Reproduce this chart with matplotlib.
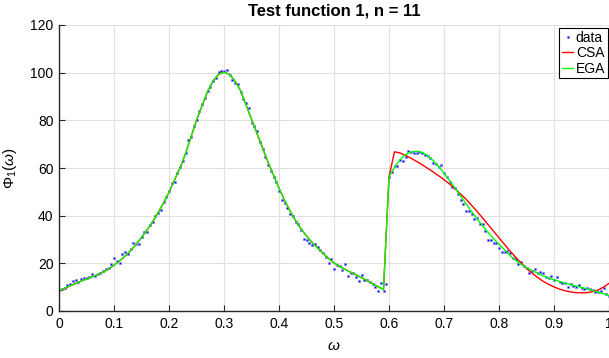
import numpy as np
import matplotlib
matplotlib.use("Agg")
import matplotlib.pyplot as plt

plt.rcParams["font.family"] = ["Liberation Sans", "DejaVu Sans"]
plt.rcParams["mathtext.fontset"] = "custom"
plt.rcParams["mathtext.rm"] = "Liberation Sans"
plt.rcParams["mathtext.it"] = "Liberation Sans:italic"

# measured samples, step 0.005 on [0, 1]
data_y = [
    8.8, 9.1, 9.5, 10.9, 11.3, 12.7, 12.9, 12.0, 13.3, 13.7,
    14.0, 14.4, 15.5, 14.8, 15.5, 15.8, 16.9, 17.5, 18.2, 19.7,
    22.1, 21.0, 20.0, 23.9, 24.9, 23.8, 25.9, 28.4, 28.2, 28.2,
    31.0, 33.0, 33.3, 36.1, 37.5, 39.8, 41.0, 42.4, 45.9, 48.0,
    50.5, 53.6, 54.3, 57.8, 60.3, 63.1, 66.2, 71.8, 73.0, 77.6,
    80.0, 83.9, 86.9, 89.3, 92.5, 94.1, 96.7, 97.6, 100.4, 100.8,
    100.7, 101.1, 99.0, 96.8, 95.6, 95.3, 91.8, 88.8, 87.1, 85.0,
    79.0, 77.6, 75.7, 71.0, 67.8, 64.5, 61.3, 58.7, 56.4, 54.0,
    50.4, 46.6, 45.2, 43.1, 40.7, 39.9, 37.5, 36.5, 34.0, 30.3,
    29.8, 28.7, 27.6, 28.3, 27.0, 25.6, 24.4, 22.7, 20.3, 21.8,
    17.6, 19.2, 18.9, 17.2, 19.9, 14.8, 16.1, 15.9, 14.1, 12.6,
    15.0, 13.0, 13.0, 12.3, 11.3, 9.9, 8.4, 11.9, 8.4, 11.3,
    56.4, 58.5, 60.8, 61.0, 63.4, 63.0, 64.8, 67.1, 66.8, 66.5,
    66.2, 66.7, 66.2, 65.3, 65.2, 64.3, 62.0, 61.6, 60.3, 61.3,
    57.8, 56.4, 54.3, 51.9, 51.5, 49.1, 46.6, 44.9, 42.0, 42.0,
    40.7, 38.5, 39.1, 36.5, 36.5, 33.7, 29.8, 29.8, 28.7, 28.5,
    26.5, 24.6, 24.6, 25.2, 24.2, 22.1, 21.7, 19.6, 20.7, 18.9,
    17.9, 16.1, 16.8, 17.5, 15.8, 16.5, 16.1, 14.4, 13.7, 14.7,
    13.0, 14.1, 12.3, 11.9, 11.9, 10.2, 11.3, 10.5, 9.9, 10.8,
    9.5, 9.3, 9.5, 9.3, 8.8, 7.8, 8.1, 8.5, 9.8, 7.0,
    6.3,
]
data_x = np.linspace(0, 1, len(data_y))

# fitted curves, step 0.01 on [0, 1]
ega_y = [
    8.5, 9.5, 10.6, 11.6, 12.5, 13.4, 14.3, 15.2, 16.3, 17.6,
    19.2, 21.0, 23.0, 25.3, 27.9, 30.8, 34.0, 37.4, 41.2, 45.3,
    49.8, 55.0, 60.0, 66.0, 73.0, 80.0, 86.0, 92.0, 96.5, 99.3,
    100.2, 99.3, 96.5, 92.5, 86.5, 80.5, 74.5, 68.5, 62.5, 57.0,
    51.5, 46.5, 42.0, 38.0, 34.5, 31.5, 28.8, 26.5, 24.2, 22.0,
    20.2, 18.8, 17.5, 16.3, 15.2, 14.0, 12.8, 11.5, 10.2, 9.0,
    56.3, 60.3, 63.5, 65.6, 66.7, 67.0, 66.6, 65.3, 63.2, 60.7,
    57.8, 54.8, 51.6, 48.3, 45.0, 41.8, 38.7, 35.8, 33.0, 30.4,
    28.0, 25.7, 23.3, 21.3, 19.6, 18.2, 17.0, 15.9, 14.8, 13.9,
    13.1, 12.4, 11.7, 11.1, 10.5, 9.9, 9.3, 8.6, 7.9, 7.2,
    6.5,
]
csa_y = [
    8.2, 9.3, 10.5, 11.5, 12.5, 13.4, 14.3, 15.2, 16.3, 17.6,
    19.2, 21.0, 23.0, 25.3, 27.9, 30.8, 34.0, 37.4, 41.2, 45.3,
    49.8, 55.0, 60.0, 66.0, 73.0, 80.0, 86.0, 92.0, 96.5, 99.3,
    100.2, 99.3, 96.5, 92.5, 86.5, 80.5, 74.5, 68.5, 62.5, 57.0,
    51.5, 46.5, 42.0, 38.0, 34.5, 31.5, 28.8, 26.5, 24.2, 22.0,
    20.2, 18.8, 17.5, 16.3, 15.2, 14.0, 12.8, 11.5, 10.2, 9.0,
    56.3, 66.8, 66.3, 65.3, 64.1, 62.8, 61.4, 59.9, 58.4, 56.8,
    55.1, 53.3, 51.3, 49.1, 46.9, 44.4, 41.8, 39.1, 36.3, 33.5,
    30.7, 27.9, 25.2, 22.6, 20.2, 17.9, 15.9, 14.1, 12.5, 11.2,
    10.1, 9.2, 8.5, 8.0, 7.7, 7.6, 7.7, 8.1, 8.8, 10.0,
    11.6,
]
fit_x = np.linspace(0, 1, len(ega_y))

fig = plt.figure(figsize=(6.09, 3.58), dpi=100)
ax = fig.add_axes([59 / 609, 47 / 358, 550 / 609, 286 / 358])

ax.plot(data_x, data_y, "s", color=(0, 0, 1), ms=1.6, mew=0.6,
        mec=(0.55, 0.55, 1.0), label="data")
ax.plot(fit_x, csa_y, color=(1, 0, 0), lw=1.0, label="CSA")
ax.plot(fit_x, ega_y, color=(0, 1, 0), lw=1.0, label="EGA")

ax.set_xlim(0, 1)
ax.set_ylim(0, 120)
ax.set_xticks(np.arange(0, 1.01, 0.1))
ax.set_xticklabels(["0", "0.1", "0.2", "0.3", "0.4", "0.5", "0.6", "0.7", "0.8", "0.9", "1"])
ax.set_yticks(np.arange(0, 121, 20))
ax.grid(True, color=(0.88, 0.88, 0.88), lw=0.8)
ax.set_axisbelow(True)

for side in ["top", "right"]:
    ax.spines[side].set_visible(False)
for side in ["left", "bottom"]:
    ax.spines[side].set_color((0.15, 0.15, 0.15))
    ax.spines[side].set_linewidth(1.0)
ax.tick_params(direction="in", length=4, width=0.8, colors=(0.15, 0.15, 0.15),
               labelsize=10, labelcolor="black", pad=4)

ax.set_title("Test function 1, n = 11", fontsize=12, fontweight="bold", pad=7)
ax.set_xlabel(r"$\omega$", fontsize=11, labelpad=6)
ax.set_ylabel(r"$\Phi_1(\omega)$", fontsize=11, labelpad=8)

leg = ax.legend(loc="upper right", bbox_to_anchor=(549 / 550, 283 / 286),
                borderaxespad=0, fontsize=10, handlelength=0.8,
                handletextpad=0.2, labelspacing=0.1, borderpad=0.2,
                fancybox=False, framealpha=1, markerscale=1.0)
leg.get_frame().set_edgecolor("black")
leg.get_frame().set_linewidth(0.8)

fig.savefig("out.png", dpi=100)
